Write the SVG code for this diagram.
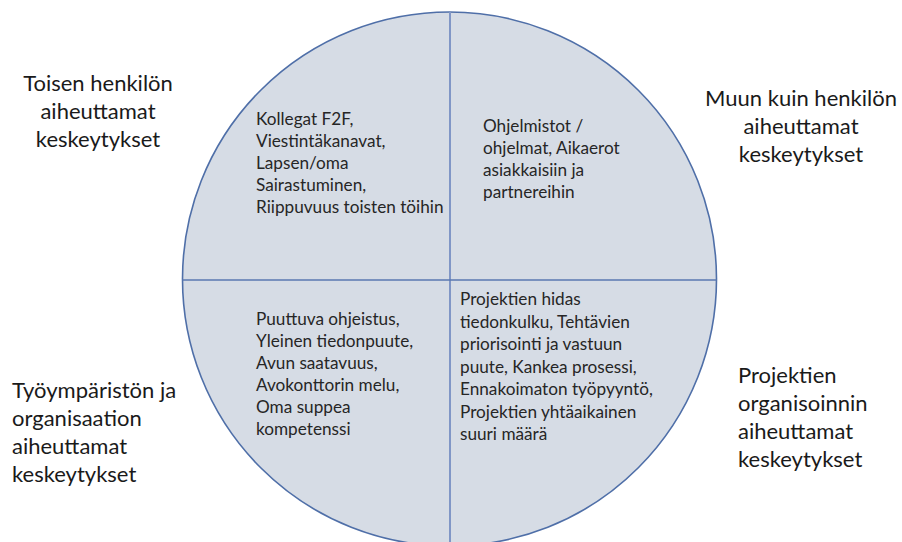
<svg xmlns="http://www.w3.org/2000/svg" width="902" height="542" viewBox="0 0 902 542">
<style>
.lbl{font-family:Lato,"Liberation Sans",sans-serif;font-size:22px;fill:#1a1a1a}
.in{font-family:Lato,"Liberation Sans",sans-serif;font-size:17.2px;fill:#262626}
.c{text-anchor:middle}
</style>
<rect width="902" height="542" fill="#ffffff"/>
<g id="circle">
<circle cx="449.5" cy="279" r="267" fill="#D6DCE5" stroke="#4F6FA8" stroke-width="1.6"/>
</g>
<g id="dividers">
<line x1="450" y1="12" x2="450" y2="542" stroke="#8096C6" stroke-width="2"/>
<line x1="182.5" y1="280" x2="716.5" y2="280" stroke="#5A79B0" stroke-width="1.6"/>
</g>
<g id="q-top-left">
<text class="in"><tspan x="256" y="125">Kollegat F2F,</tspan><tspan x="256" y="147">Viestintäkanavat,</tspan><tspan x="256" y="169">Lapsen/oma</tspan><tspan x="256" y="191">Sairastuminen,</tspan><tspan x="256" y="213">Riippuvuus toisten töihin</tspan></text>
</g>
<g id="q-top-right">
<text class="in"><tspan x="483" y="132">Ohjelmistot /</tspan><tspan x="483" y="154">ohjelmat, Aikaerot</tspan><tspan x="483" y="176">asiakkaisiin ja</tspan><tspan x="483" y="198">partnereihin</tspan></text>
</g>
<g id="q-bottom-left">
<text class="in"><tspan x="256" y="325">Puuttuva ohjeistus,</tspan><tspan x="256" y="347">Yleinen tiedonpuute,</tspan><tspan x="256" y="369">Avun saatavuus,</tspan><tspan x="256" y="391">Avokonttorin melu,</tspan><tspan x="256" y="413">Oma suppea</tspan><tspan x="256" y="435">kompetenssi</tspan></text>
</g>
<g id="q-bottom-right">
<text class="in"><tspan x="460" y="305">Projektien hidas</tspan><tspan x="460" y="327.5">tiedonkulku, Tehtävien</tspan><tspan x="460" y="350">priorisointi ja vastuun</tspan><tspan x="460" y="372.5">puute, Kankea prosessi,</tspan><tspan x="460" y="395">Ennakoimaton työpyyntö,</tspan><tspan x="460" y="417.5">Projektien yhtäaikainen</tspan><tspan x="460" y="440">suuri määrä</tspan></text>
</g>
<g id="label-top-left">
<text class="lbl c"><tspan x="98" y="91">Toisen henkilön</tspan><tspan x="98" y="119">aiheuttamat</tspan><tspan x="98" y="147">keskeytykset</tspan></text>
</g>
<g id="label-top-right">
<text class="lbl c"><tspan x="801" y="106">Muun kuin henkilön</tspan><tspan x="801" y="134">aiheuttamat</tspan><tspan x="801" y="162">keskeytykset</tspan></text>
</g>
<g id="label-bottom-left">
<text class="lbl"><tspan x="12" y="398">Työympäristön ja</tspan><tspan x="12" y="426">organisaation</tspan><tspan x="12" y="454">aiheuttamat</tspan><tspan x="12" y="482">keskeytykset</tspan></text>
</g>
<g id="label-bottom-right">
<text class="lbl"><tspan x="738" y="383">Projektien</tspan><tspan x="738" y="411">organisoinnin</tspan><tspan x="738" y="439">aiheuttamat</tspan><tspan x="738" y="467">keskeytykset</tspan></text>
</g>
</svg>
